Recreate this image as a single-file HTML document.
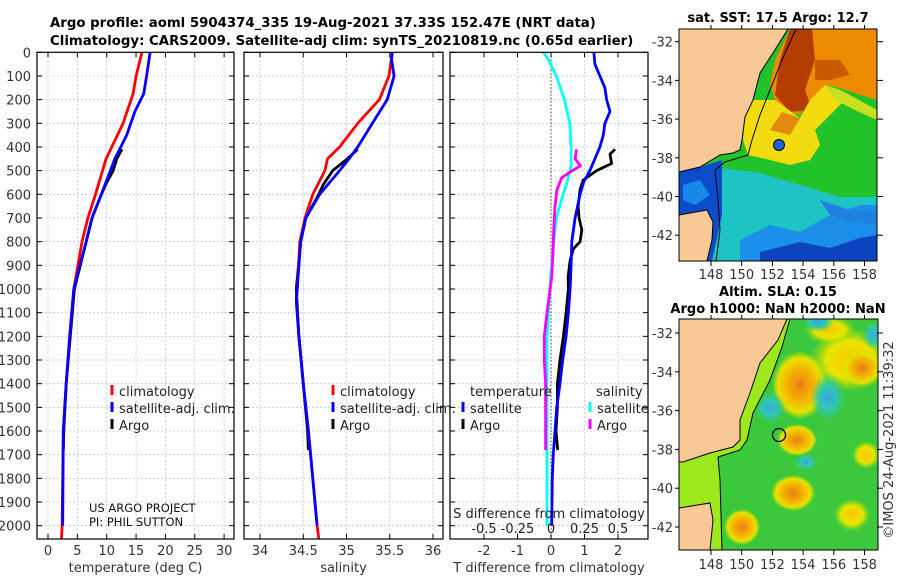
<!DOCTYPE html>
<html><head><meta charset="utf-8"><style>
html,body{margin:0;padding:0;background:#fff;width:900px;height:580px;overflow:hidden}
svg text{font-family:"DejaVu Sans","Liberation Sans",sans-serif}
</style></head><body>
<svg id="fig" width="900" height="580" viewBox="0 0 900 580" xmlns="http://www.w3.org/2000/svg">
<defs>
<clipPath id="cp1"><rect x="37" y="52" width="197" height="487"/></clipPath>
<clipPath id="cp2"><rect x="244" y="52" width="199" height="487"/></clipPath>
<clipPath id="cp3"><rect x="450" y="52" width="198" height="487"/></clipPath>
<clipPath id="cm1"><rect x="679" y="29" width="198" height="232"/></clipPath>
<clipPath id="cm2"><rect x="679" y="319" width="199" height="231"/></clipPath>
<radialGradient id="gOr"><stop offset="0" stop-color="#e88018"/><stop offset="0.45" stop-color="#f5b000"/><stop offset="0.8" stop-color="#e8e000"/><stop offset="1" stop-color="#c8e800" stop-opacity="0"/></radialGradient>
<radialGradient id="gYe"><stop offset="0" stop-color="#f8c800"/><stop offset="0.6" stop-color="#e8e400"/><stop offset="1" stop-color="#b0e000" stop-opacity="0"/></radialGradient>
<radialGradient id="gCy"><stop offset="0" stop-color="#3aa8e0"/><stop offset="0.5" stop-color="#30c8b0"/><stop offset="1" stop-color="#30c880" stop-opacity="0"/></radialGradient>
</defs>
<text x="50" y="27" font-size="13.3" font-weight="bold">Argo profile: aoml 5904374_335 19-Aug-2021 37.33S 152.47E (NRT data)</text>
<text x="50" y="45" font-size="13.3" font-weight="bold">Climatology: CARS2009. Satellite-adj clim: synTS_20210819.nc (0.65d earlier)</text>

<!-- Map 1 -->
<g>
<text x="778" y="22" text-anchor="middle" font-size="13" font-weight="bold">sat. SST: 17.5 Argo: 12.7</text>
<g clip-path="url(#cm1)">
<rect x="679" y="29" width="198" height="232" fill="#22c22a"/>
<polygon points="713,167 760,173 807,187 840,197 877,197 877,261 679,261 679,167" fill="#1ec4c4"/>
<polygon points="740,240 770,225 800,232 830,215 860,205 877,205 877,261 740,261" fill="#1a8ee8"/>
<polygon points="760,252 800,242 830,248 860,238 877,235 877,261 760,261" fill="#0c44c0"/>
<polygon points="820,200 850,210 877,212 877,225 850,222 830,215" fill="#2080e0"/>
<polygon points="679,172 700,167 722,160 722,215 712,261 679,261" fill="#0c4cc8"/>
<polygon points="683,185 700,180 710,195 695,205 683,200" fill="#1888e8"/>
<polygon points="790,29 877,29 877,100 860,95 840,88 825,85 810,100 800,115 785,110 775,100 770,85 775,60" fill="#ec8a00"/>
<polygon points="790,29 812,29 815,60 805,90 812,110 790,112 775,95 780,60" fill="#b43c00"/>
<polygon points="815,60 840,60 850,75 830,80 815,80" fill="#c85a00"/>
<polygon points="753,100 775,100 800,118 810,100 825,85 840,90 850,95 830,115 815,130 820,145 810,160 790,165 770,160 748,155 743,140 745,117" fill="#f2dc10"/>
<polygon points="770,130 790,135 800,118 782,112" fill="#e08a10"/>
<polygon points="825,85 850,95 877,110 877,120 855,110 835,100" fill="#c8e020"/>
<polygon points="679,29 788,29 773,53 760,73 753,100 745,117 742,140 740,150 733,153 720,155 700,167 679,172" fill="#f8c896"/>
<polygon points="679,215 707,210 713,222 712,240 707,261 679,261" fill="#f8c896"/>
<polyline points="788,29 773,53 760,73 753,100 745,117 742,140 740,150 733,153 720,155 700,167 679,172" fill="none" stroke="#000" stroke-width="1"/>
<polyline points="679,215 707,210 713,222 712,240 707,261" fill="none" stroke="#000" stroke-width="1"/>
<polyline points="796,29 782,60 770,90 760,115 752,140 748,155 725,162 715,170 718,200 720,230 716,261" fill="none" stroke="#000" stroke-width="1"/>
<circle cx="779" cy="145" r="5.5" fill="#1e64d8" stroke="#000" stroke-width="1"/>
</g>
<rect x="679" y="29" width="198" height="232" fill="none" stroke="#000" stroke-width="1"/>
</g>

<!-- Map 2 -->
<g>
<text x="778" y="296" text-anchor="middle" font-size="13" font-weight="bold">Altim. SLA: 0.15</text>
<text x="778" y="313" text-anchor="middle" font-size="13" font-weight="bold">Argo h1000: NaN h2000: NaN</text>
<g clip-path="url(#cm2)">
<rect x="679" y="319" width="199" height="231" fill="#3cc83c"/>
<ellipse cx="800" cy="385" rx="28" ry="34" fill="url(#gOr)"/>
<ellipse cx="850" cy="360" rx="40" ry="32" fill="url(#gYe)"/>
<ellipse cx="862" cy="368" rx="20" ry="18" fill="url(#gOr)"/>
<ellipse cx="830" cy="330" rx="25" ry="14" fill="url(#gYe)"/>
<ellipse cx="770" cy="408" rx="16" ry="16" fill="url(#gCy)"/>
<ellipse cx="828" cy="398" rx="18" ry="24" fill="url(#gCy)"/>
<ellipse cx="818" cy="322" rx="16" ry="10" fill="url(#gCy)"/>
<ellipse cx="874" cy="335" rx="12" ry="14" fill="url(#gCy)"/>
<ellipse cx="797" cy="440" rx="20" ry="16" fill="url(#gOr)"/>
<ellipse cx="806" cy="462" rx="12" ry="9" fill="url(#gCy)"/>
<ellipse cx="793" cy="493" rx="22" ry="18" fill="url(#gOr)"/>
<ellipse cx="742" cy="527" rx="18" ry="18" fill="url(#gOr)"/>
<ellipse cx="852" cy="515" rx="18" ry="16" fill="url(#gYe)"/>
<ellipse cx="866" cy="455" rx="14" ry="14" fill="url(#gYe)"/>
<polygon points="787,319 778,340 760,363 750,393 740,420 740,440 733,447 710,453 683,462 679,462 679,508 710,503 713,520 710,550 722,550 720,480 718,457 740,450 747,440 753,413 770,380 782,347 790,319" fill="#9ee81e"/>
<polygon points="679,319 787,319 778,340 760,363 750,393 740,420 740,440 733,447 710,453 683,462 679,462" fill="#f8c896"/>
<polygon points="679,508 710,503 713,520 710,550 679,550" fill="#f8c896"/>
<polyline points="787,319 778,340 760,363 750,393 740,420 740,440 733,447 710,453 683,462 679,462" fill="none" stroke="#000" stroke-width="1"/>
<polyline points="679,508 710,503 713,520 710,550" fill="none" stroke="#000" stroke-width="1"/>
<polyline points="790,319 782,347 770,380 753,413 747,440 740,450 718,457 720,480 722,550" fill="none" stroke="#000" stroke-width="1"/>
<circle cx="779" cy="435" r="6.5" fill="none" stroke="#000" stroke-width="1.3"/>
</g>
<rect x="679" y="319" width="199" height="231" fill="none" stroke="#000" stroke-width="1"/>
<text transform="translate(893,440) rotate(-90)" text-anchor="middle" font-size="13" fill="#333">©IMOS 24-Aug-2021 11:39:32</text>
</g>

<g id="plots"></g>
</svg>
<script>
// ---- data ----
const depthTicks = [0,100,200,300,400,500,600,700,800,900,1000,1100,1200,1300,1400,1500,1600,1700,1800,1900,2000];
const tempTicks = [0,5,10,15,20,25,30];
const salTicks = [34,34.5,35,35.5,36];
const tDiffTicks = [-2,-1,0,1,2];
const sDiffTicks = [-0.5,-0.25,0,0.25,0.5];
const sDiffTickLabels = ["-0.5","-0.25","0","0.25","0.5"];

const tempClimDepth = [0,100,175,300,450,600,700,800,1000,1200,1400,1600,2000,2056];
const tempClim = [16.0,15.0,14.5,12.8,9.9,8.1,6.8,5.8,4.4,3.7,3.1,2.6,2.4,2.3];
const tempSatDepth = [0,100,175,250,350,450,600,700,800,1000,1200,1400,1600,2000];
const tempSat = [17.4,16.8,16.3,14.8,13.4,11.4,9.1,7.5,6.5,4.4,3.7,3.1,2.6,2.5];
const tempArgoDepth = [410,450,500,550,600,700,800,1000,1200,1400,1600,1680];
const tempArgo = [12.6,11.7,11.1,10.0,9.1,7.5,6.5,4.5,3.8,3.1,2.7,2.6];

const salClimDepth = [0,100,200,300,400,450,500,600,700,800,1000,1050,1200,1400,1600,1800,2000,2056];
const salClim = [35.53,35.49,35.38,35.13,34.92,34.78,34.75,34.61,34.52,34.46,34.43,34.42,34.45,34.50,34.56,34.61,34.66,34.68];
const salSatDepth = [0,30,100,200,300,400,450,500,600,700,800,1000,1050,1200,1400,1600,1800,2000];
const salSat = [35.53,35.52,35.55,35.47,35.30,35.13,35.03,34.92,34.69,34.53,34.47,34.43,34.42,34.45,34.50,34.56,34.61,34.66];
const salArgoDepth = [410,450,500,560,600,700,800,1000,1200,1400,1600,1680];
const salArgo = [35.13,35.01,34.84,34.73,34.68,34.53,34.47,34.42,34.45,34.50,34.55,34.56];

const sSatDiffDepth = [0,20,100,200,300,400,480,550,600,700,800,1000,1200,1400,1800,2000];
const sSatDiff = [-0.06,-0.03,0.04,0.10,0.14,0.15,0.15,0.12,0.09,0.04,0.02,-0.01,-0.03,-0.03,-0.03,-0.03];
const sArgoDiffDepth = [410,450,480,500,530,580,650,750,850,950,1100,1200,1300,1400,1500,1600,1680];
const sArgoDiff = [0.19,0.18,0.22,0.16,0.08,0.045,0.03,0.02,0.015,0.005,-0.03,-0.05,-0.05,-0.04,-0.04,-0.04,-0.04];
const tSatDiffDepth = [0,50,100,150,200,250,300,350,400,450,500,550,600,700,800,900,1000,1100,1200,1300,1400,1500,1600,1700,1800,2000];
const tSatDiff = [1.28,1.31,1.46,1.61,1.66,1.76,1.61,1.56,1.46,1.31,1.16,0.97,0.87,0.72,0.62,0.60,0.57,0.52,0.45,0.35,0.27,0.17,0.12,0.07,0.04,0.02];
const tArgoDiffDepth = [410,430,470,500,540,580,650,700,750,800,830,880,950,1000,1100,1200,1300,1400,1500,1600,1680];
const tArgoDiff = [1.91,1.76,1.81,1.36,0.96,0.87,0.81,0.84,0.92,0.87,0.67,0.57,0.51,0.52,0.45,0.37,0.27,0.19,0.19,0.15,0.2];

const latTicks = [-32,-34,-36,-38,-40,-42];
const lonTicks = [148,150,152,154,156,158];

// ---- scales ----
const NS = "http://www.w3.org/2000/svg";
const TOP = 52.3, BOT = 539, PXD = 0.2367;
function yD(d){ return TOP + d*PXD; }
function xT(v){ return 48 + 5.87*v; }
function xS(v){ return 260 + 86.5*(v-34); }
function xTd(v){ return 551 + 33.5*v; }
function xSd(v){ return 551 + 134*v; }
function yLat1(l){ return 41.7 + 19.35*(-32-l); }
function yLat2(l){ return 333 + 19.4*(-32-l); }
function xLon(l){ return 711 + 15.35*(l-148); }

const root = document.getElementById('plots');
function mk(tag, attrs, parent){
  const e = document.createElementNS(NS, tag);
  for (const k in attrs) e.setAttribute(k, attrs[k]);
  (parent||root).appendChild(e);
  return e;
}
function txt(s, attrs, parent){ const e = mk('text', attrs, parent); e.textContent = s; return e; }

const panels = [
  {x0:37, x1:234, clip:'cp1', ticks:tempTicks, fx:xT, lab:tempTicks.map(String), title:'temperature (deg C)', name:'temperature-panel'},
  {x0:244, x1:443, clip:'cp2', ticks:salTicks, fx:xS, lab:salTicks.map(String), title:'salinity', name:'salinity-panel'},
  {x0:450, x1:648, clip:'cp3', ticks:tDiffTicks, fx:xTd, lab:tDiffTicks.map(String), title:'T difference from climatology', name:'difference-panel'}
];

function drawLine(g, depths, vals, fx, color, name){
  let p = '';
  for (let i=0;i<depths.length;i++) p += (i?' L':'M') + fx(vals[i]).toFixed(1) + ',' + yD(depths[i]).toFixed(1);
  const e = mk('path', {d:p, fill:'none', stroke:color, 'stroke-width':2.8, 'stroke-linejoin':'round'}, g);
  
  
}

panels.forEach((P, pi) => {
  const g = mk('g', {});
  
  
  const grid = mk('g', {stroke:'#b8c4ee', 'stroke-width':0.8, 'stroke-dasharray':'2,2'}, g);
  depthTicks.forEach(d => mk('line', {x1:P.x0, x2:P.x1, y1:yD(d), y2:yD(d)}, grid));
  P.ticks.forEach(t => mk('line', {x1:P.fx(t), x2:P.fx(t), y1:TOP, y2:BOT}, grid));
  if (pi===2) mk('line', {x1:xTd(0), x2:xTd(0), y1:TOP, y2:BOT, stroke:'#5a6a3a', 'stroke-width':1.2, 'stroke-dasharray':'1.5,2'}, g);
  const ax = mk('g', {stroke:'#000', 'stroke-width':1}, g);
  depthTicks.forEach(d => { mk('line',{x1:P.x0,x2:P.x0+5,y1:yD(d),y2:yD(d)},ax); mk('line',{x1:P.x1-5,x2:P.x1,y1:yD(d),y2:yD(d)},ax); });
  P.ticks.forEach(t => { mk('line',{x1:P.fx(t),x2:P.fx(t),y1:BOT-5,y2:BOT},ax); mk('line',{x1:P.fx(t),x2:P.fx(t),y1:TOP,y2:TOP+5},ax); });
  P.ticks.forEach((t,i) => {
    const e = txt(P.lab[i], {x:P.fx(t), y:555, 'text-anchor':'middle', 'font-size':13, fill:'#333'}, g);
    
    
  });
  const xt = txt(P.title, {x:(P.x0+P.x1)/2, y:572, 'text-anchor':'middle', 'font-size':13, fill:'#333'}, g);
  
  
  const lg = mk('g', {'clip-path':'url(#'+P.clip+')'}, g);
  if (pi===0){
    drawLine(lg, tempArgoDepth, tempArgo, xT, '#000000', 'temp-argo-line');
    drawLine(lg, tempClimDepth, tempClim, xT, '#ff0000', 'temp-climatology-line');
    drawLine(lg, tempSatDepth, tempSat, xT, '#0000ff', 'temp-satellite-line');
  } else if (pi===1){
    drawLine(lg, salArgoDepth, salArgo, xS, '#000000', 'sal-argo-line');
    drawLine(lg, salClimDepth, salClim, xS, '#ff0000', 'sal-climatology-line');
    drawLine(lg, salSatDepth, salSat, xS, '#0000ff', 'sal-satellite-line');
  } else {
    drawLine(lg, sSatDiffDepth, sSatDiff, xSd, '#00ffff', 's-diff-satellite-line');
    drawLine(lg, sArgoDiffDepth, sArgoDiff, xSd, '#ff00ff', 's-diff-argo-line');
    drawLine(lg, tArgoDiffDepth, tArgoDiff, xTd, '#000000', 't-diff-argo-line');
    drawLine(lg, tSatDiffDepth, tSatDiff, xTd, '#0000ff', 't-diff-satellite-line');
  }
  mk('rect', {x:P.x0, y:TOP, width:P.x1-P.x0, height:BOT-TOP, fill:'none', stroke:'#000', 'stroke-width':1.2}, g);
});

// depth labels
depthTicks.forEach(d => {
  const e = txt(String(d), {x:31, y:yD(d)+5, 'text-anchor':'end', 'font-size':13, fill:'#333'});
  
  
});

// S diff axis labels inside panel 3
const sdt = txt('S difference from climatology', {x:549, y:518, 'text-anchor':'middle', 'font-size':13, fill:'#222'});


sDiffTicks.forEach((t,i) => {
  const e = txt(sDiffTickLabels[i], {x:xSd(t), y:533, 'text-anchor':'middle', 'font-size':13, fill:'#222'});
  
  
});

// legends
function legend(x, y, color, label){
  const g = mk('g', {});
  
  
  mk('line', {x1:x, x2:x, y1:y-11, y2:y-1, stroke:color, 'stroke-width':3}, g);
  txt(label, {x:x+7, y:y, 'font-size':13, fill:'#222'}, g);
}
legend(112, 396, '#ff0000', 'climatology');
legend(112, 413, '#0000ff', 'satellite-adj. clim.');
legend(112, 430, '#000', 'Argo');
legend(333, 396, '#ff0000', 'climatology');
legend(333, 413, '#0000ff', 'satellite-adj. clim.');
legend(333, 430, '#000', 'Argo');
const lt1 = txt('temperature', {x:470, y:396, 'font-size':13, fill:'#222'});


const lt2 = txt('salinity', {x:596, y:396, 'font-size':13, fill:'#222'});


legend(463, 413, '#0000ff', 'satellite');
legend(463, 430, '#000', 'Argo');
legend(590, 413, '#00ffff', 'satellite');
legend(590, 430, '#ff00ff', 'Argo');

const c1 = txt('US ARGO PROJECT', {x:89, y:512, 'font-size':11.5, fill:'#111', 'font-family':'Liberation Sans'});


const c2 = txt('PI: PHIL SUTTON', {x:89, y:526, 'font-size':11.5, fill:'#111', 'font-family':'Liberation Sans'});



// map axes
[[yLat1, 29, 261, 275], [yLat2, 319, 550, 565]].forEach((m, mi) => {
  const fy = m[0];
  latTicks.forEach(l => {
    const y = fy(l);
    mk('line', {x1:877, x2:883, y1:y, y2:y, stroke:'#000'});
    mk('line', {x1:679, x2:675, y1:y, y2:y, stroke:'#000'});
    const e = txt(String(l), {x:673, y:y+5, 'text-anchor':'end', 'font-size':13, fill:'#333'});
    
    
  });
  lonTicks.forEach(l => {
    const x = xLon(l);
    mk('line', {x1:x, x2:x, y1:m[2], y2:m[2]+5, stroke:'#000'});
    mk('line', {x1:x, x2:x, y1:m[1], y2:m[1]-4, stroke:'#000'});
    const e = txt(String(l), {x:x, y:m[3]+4, 'text-anchor':'middle', 'font-size':13, fill:'#333'});
    
    
  });
});
</script>
</body></html>
